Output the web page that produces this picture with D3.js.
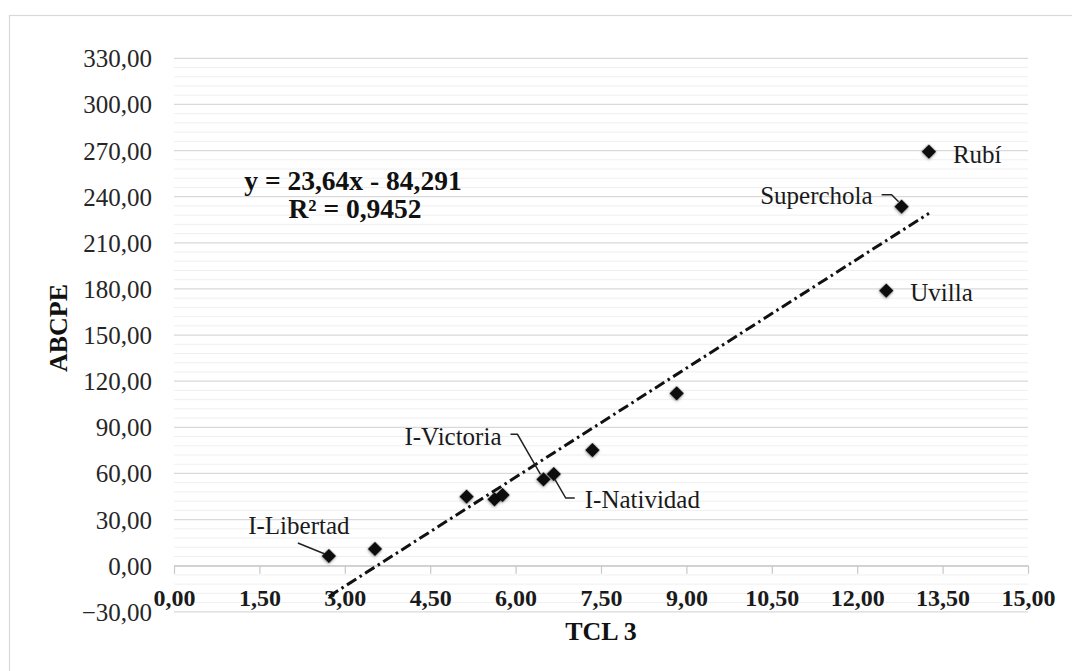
<!DOCTYPE html>
<html>
<head>
<meta charset="utf-8">
<script src="https://cdn.jsdelivr.net/npm/d3@7"></script>
<style>
  html, body { margin: 0; padding: 0; background: #fff; }
  svg { display: block; font-family: "Liberation Serif", "Times New Roman", serif; }
</style>
</head>
<body>
<svg id="chart" width="1072" height="671"></svg>
<script>
// ---- data ----
const tcl   = [2.72, 3.53, 5.14, 5.63, 5.77, 6.49, 6.67, 7.35, 8.83, 12.51, 12.78, 13.26];
const abcpe = [6.3, 10.9, 44.9, 43.2, 46.0, 56.2, 59.6, 75.2, 112.1, 178.9, 233.5, 269.3];
const names = ["I-Libertad", "", "", "", "", "I-Victoria", "I-Natividad", "", "", "Uvilla", "Superchola", "Rubí"];
const xTicks = [0, 1.5, 3, 4.5, 6, 7.5, 9, 10.5, 12, 13.5, 15];
const yTicks = [-30, 0, 30, 60, 90, 120, 150, 180, 210, 240, 270, 300, 330];
const slope = 23.64, intercept = -84.291;
const eqText = "y = 23,64x - 84,291";
const r2Text = "R² = 0,9452";
const xTitle = "TCL 3", yTitle = "ABCPE";

// ---- layout ----
const svg = d3.select("#chart");
const x = d3.scaleLinear().domain([0, 15]).range([174, 1028]);
const y = d3.scaleLinear().domain([0, 330]).range([565.7, 58.3]);
const fmt = v => d3.format(".2f")(v).replace(".", ",");

// outer border (only top & left visible)
svg.append("rect").attr("x", 9.5).attr("y", 15.5).attr("width", 1100).attr("height", 700)
  .attr("fill", "none").attr("stroke", "#d9d9d9").attr("stroke-width", 1.2);

const defs = svg.append("defs");
const f = defs.append("filter").attr("id", "sh").attr("x", "-50%").attr("y", "-50%").attr("width", "200%").attr("height", "200%");
f.append("feDropShadow").attr("dx", 0.5).attr("dy", 1).attr("stdDeviation", 1.4).attr("flood-color", "#000").attr("flood-opacity", 0.35);

// minor gridlines
const minor = d3.range(-30, 331, 6).filter(v => (v % 30) !== 0);
svg.append("g").selectAll("line").data(minor).join("line")
  .attr("x1", x(0)).attr("x2", x(15)).attr("y1", d => y(d)).attr("y2", d => y(d))
  .attr("stroke", "#efefef").attr("stroke-width", 1);

// major gridlines
svg.append("g").selectAll("line").data(yTicks).join("line")
  .attr("x1", x(0)).attr("x2", x(15)).attr("y1", d => y(d)).attr("y2", d => y(d))
  .attr("stroke", "#d9d9d9").attr("stroke-width", 1.2);

// y axis labels
const yAxis = d3.axisLeft(y).tickValues(yTicks).tickFormat(fmt).tickSize(0).tickPadding(0);
const gy = svg.append("g").attr("transform", "translate(152,0)").call(yAxis);
gy.select(".domain").remove();
gy.selectAll("text").attr("font-family", "Liberation Serif").attr("font-size", 25).attr("fill", "#262626").attr("dy", "0.34em");

// x axis at y=0
const xAxis = d3.axisBottom(x).tickValues(xTicks).tickFormat(fmt).tickSizeInner(8).tickSizeOuter(0).tickPadding(15);
const gx = svg.append("g").attr("transform", `translate(0,${y(0)})`).call(xAxis);
gx.select(".domain").attr("stroke", "#c8c8c8").attr("stroke-width", 1.2);
gx.selectAll(".tick line").attr("stroke", "#c8c8c8").attr("stroke-width", 1.2);
gx.selectAll("text").attr("font-family", "Liberation Serif").attr("font-size", 24).attr("font-weight", "bold").attr("fill", "#1a1a1a");

// trendline
const x0 = d3.min(tcl), x1 = d3.max(tcl);
svg.append("line")
  .attr("x1", x(x0)).attr("y1", y(slope * x0 + intercept))
  .attr("x2", x(x1)).attr("y2", y(slope * x1 + intercept))
  .attr("stroke", "#111").attr("stroke-width", 3)
  .attr("stroke-dasharray", "11,4,2.5,4");

// points
const pts = tcl.map((v, i) => ({ x: v, y: abcpe[i], name: names[i] }));
svg.append("g").selectAll("path").data(pts).join("path")
  .attr("d", d3.symbol().type(d3.symbolSquare).size(105))
  .attr("transform", d => `translate(${x(d.x)},${y(d.y)}) rotate(45)`)
  .attr("fill", "#111").attr("filter", "url(#sh)");

// labels: offsets relative to the point [dx, dy, anchor] and leader polyline offsets
const labelLayout = {
  "I-Libertad": { t: [-30, -22, "middle"], lead: [[-31, -13], [-4, -2]] },
  "I-Victoria": { t: [-42, -34, "end"], lead: [[-33, -45], [-26, -45], [-3, -5]] },
  "I-Natividad": { t: [31, 34, "start"], lead: [[1, 5], [12, 24], [21, 24]] },
  "Superchola": { t: [-29, -3, "end"], lead: [[-20, -12], [-10, -12], [-3, -5]] },
  "Rubí": { t: [24, 11, "start"], lead: null },
  "Uvilla": { t: [24, 10, "start"], lead: null }
};
const lab = svg.append("g");
pts.filter(d => d.name).forEach(d => {
  const L = labelLayout[d.name];
  const px = x(d.x), py = y(d.y);
  lab.append("text").attr("x", px + L.t[0]).attr("y", py + L.t[1])
    .attr("text-anchor", L.t[2]).attr("font-size", 25).attr("fill", "#1a1a1a").text(d.name);
  if (L.lead) {
    lab.append("path")
      .attr("d", d3.line()(L.lead.map(p => [px + p[0], py + p[1]])))
      .attr("fill", "none").attr("stroke", "#222").attr("stroke-width", 1.5);
  }
});

// equation
svg.append("text").attr("x", 353).attr("y", 190).attr("text-anchor", "middle")
  .attr("font-size", 27.5).attr("font-weight", "bold").attr("fill", "#111").text(eqText);
svg.append("text").attr("x", 355).attr("y", 218).attr("text-anchor", "middle")
  .attr("font-size", 27.5).attr("font-weight", "bold").attr("fill", "#111").text(r2Text);

// axis titles
svg.append("text").attr("x", 601).attr("y", 640).attr("text-anchor", "middle")
  .attr("font-size", 26).attr("font-weight", "bold").attr("fill", "#111").text(xTitle);
svg.append("text").attr("transform", "translate(67,328) rotate(-90)").attr("text-anchor", "middle")
  .attr("font-size", 26).attr("font-weight", "bold").attr("fill", "#111").text(yTitle);
</script>
</body>
</html>
